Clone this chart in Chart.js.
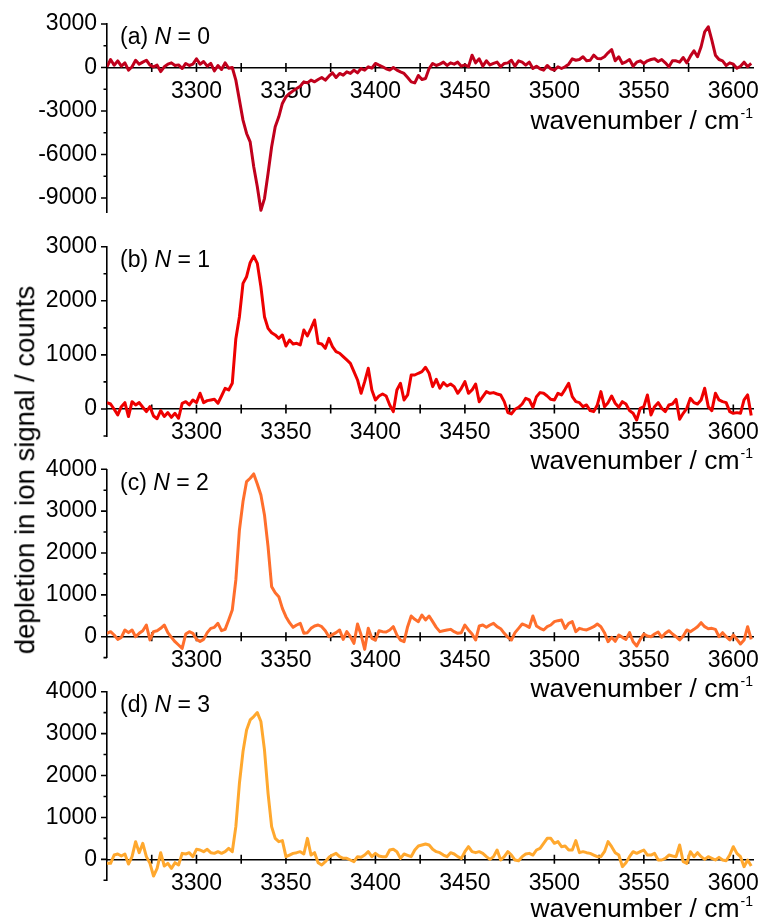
<!DOCTYPE html>
<html>
<head>
<meta charset="utf-8">
<script src="https://cdn.jsdelivr.net/npm/chart.js"></script>
<style>
  html, body { margin: 0; padding: 0; background: #fff; }
  #wrap { position: relative; width: 760px; height: 922px; overflow: hidden; background: #fff; }
  #wrap canvas { position: absolute; left: 0; }
  #ytitle {
    position: absolute; left: 25px; top: 470px;
    transform: translate(-50%, -50%) rotate(-90deg);
    white-space: nowrap; line-height: 1; color: #000;
    font-family: 'Liberation Sans', Arial, sans-serif; font-size: 27.5px;
  }
</style>
</head>
<body>
<div id="wrap">
  <canvas id="panelA" width="760" height="243" style="top:0px"></canvas>
  <canvas id="panelB" width="760" height="250" style="top:222px"></canvas>
  <canvas id="panelC" width="760" height="255" style="top:445px"></canvas>
  <canvas id="panelD" width="760" height="255" style="top:667px"></canvas>
  <div id="ytitle">depletion in ion signal / counts</div>
</div>
<script>
// IR scan grid (cm-1)
const wavenumbers = [
  3250,3252,3254,3256,3258,3260,3262,3264,3266,3268,
  3270,3272,3274,3276,3278,3280,3282,3284,3286,3288,
  3290,3292,3294,3296,3298,3300,3302,3304,3306,3308,
  3310,3312,3314,3316,3318,3320,3322,3324,3326,3328,
  3330,3332,3334,3336,3338,3340,3342,3344,3346,3348,
  3350,3352,3354,3356,3358,3360,3362,3364,3366,3368,
  3370,3372,3374,3376,3378,3380,3382,3384,3386,3388,
  3390,3392,3394,3396,3398,3400,3402,3404,3406,3408,
  3410,3412,3414,3416,3418,3420,3422,3424,3426,3428,
  3430,3432,3434,3436,3438,3440,3442,3444,3446,3448,
  3450,3452,3454,3456,3458,3460,3462,3464,3466,3468,
  3470,3472,3474,3476,3478,3480,3482,3484,3486,3488,
  3490,3492,3494,3496,3498,3500,3502,3504,3506,3508,
  3510,3512,3514,3516,3518,3520,3522,3524,3526,3528,
  3530,3532,3534,3536,3538,3540,3542,3544,3546,3548,
  3550,3552,3554,3556,3558,3560,3562,3564,3566,3568,
  3570,3572,3574,3576,3578,3580,3582,3584,3586,3588,
  3590,3592,3594,3596,3598,3600,3602,3604,3606,3608,
  3610
];

// depletion in ion signal (counts), N = 0
const depletionN0 = [
  50,550,160,460,90,320,-180,50,500,230,
  370,500,160,40,160,-280,50,230,320,140,
  180,-70,280,140,230,600,230,410,90,280,
  -230,140,-140,320,-50,0,-870,-2250,-3630,-4550,
  -5130,-6850,-8230,-9850,-9040,-7310,-5470,-4090,-3400,-2480,
  -2020,-1790,-1610,-1450,-1290,-990,-1060,-870,-990,-830,
  -690,-870,-600,-370,-690,-410,-530,-300,-410,-180,
  -370,-70,-180,50,-50,280,160,50,-90,-180,
  0,-180,-300,-410,-690,-990,-1060,-550,-830,-760,
  -70,280,140,230,370,140,320,230,370,90,
  180,50,850,320,600,90,460,180,280,370,
  50,280,320,500,90,460,370,160,370,-70,
  90,-90,-180,140,-90,-180,50,-70,50,230,
  600,500,550,740,460,500,850,620,600,740,
  1010,1240,460,740,280,390,550,90,370,460,
  280,460,550,600,410,550,320,50,460,460,
  370,690,320,780,1150,740,1430,2460,2810,1890,
  850,550,460,140,320,230,-50,90,370,50,
  280
];

// N = 1
const depletionN1 = [
  117,92,-6,-110,43,117,-140,135,74,117,
  31,-49,43,-130,-180,-31,-140,-68,-155,-80,
  -172,105,135,74,166,117,290,117,154,166,
  178,105,240,382,351,474,1300,1706,2322,2445,
  2704,2827,2692,2260,1706,1490,1410,1368,1306,1368,
  1164,1275,1200,1214,1183,1460,1350,1490,1645,1214,
  1200,1121,1306,1152,1060,1030,967,906,844,690,
  536,290,505,752,351,166,240,277,240,74,
  -49,351,474,166,259,628,628,660,690,770,
  660,413,548,382,487,425,462,413,290,382,
  505,290,351,462,135,228,320,290,302,277,
  259,135,-68,-92,-6,31,92,197,166,31,
  228,302,290,240,178,166,290,259,363,474,
  228,135,117,43,74,-31,-49,74,320,43,
  117,240,105,31,135,92,-31,-80,-203,12,
  43,259,-110,43,117,12,-49,74,92,178,
  -190,-80,12,197,117,92,166,382,43,-31,
  290,166,135,117,-49,-80,-68,-80,166,259,
  -120
];

// N = 2
const depletionN2 = [
  80,120,40,-64,-16,160,96,160,0,80,
  143,279,-80,120,143,199,279,96,-16,-120,
  -199,-279,64,120,80,-64,-112,-64,96,199,
  223,319,143,175,399,638,1355,2550,3228,3706,
  3786,3889,3650,3387,2909,2152,1196,1052,956,677,
  478,335,223,279,319,80,96,199,255,279,
  239,143,0,48,96,160,-64,120,0,-159,
  303,40,-303,199,-40,-80,143,120,112,160,
  239,40,-80,-120,239,494,414,359,518,399,
  494,359,223,120,143,160,175,120,80,96,
  279,160,64,-80,255,279,223,279,319,239,
  191,80,-16,-80,96,199,303,271,223,494,
  255,199,160,239,279,359,383,399,199,319,
  359,120,199,175,160,199,239,303,239,96,
  -120,-16,-112,40,-16,-64,96,-120,-223,-64,
  64,16,0,64,112,-16,80,143,64,0,
  -80,16,160,120,175,239,335,239,191,199,
  175,0,96,0,-80,40,-64,-175,-80,239,
  -64
];

// N = 3
const depletionN3 = [
  -96,-96,103,127,80,127,-111,64,422,159,
  382,64,-96,-398,-215,159,-159,-96,-215,-80,
  -135,143,127,159,64,239,223,183,239,159,
  143,183,143,183,263,183,780,1815,2571,3088,
  3327,3407,3502,3288,2611,1576,780,501,422,446,
  64,103,143,159,183,127,501,103,159,-80,
  -135,-56,48,103,143,64,24,24,-16,-56,
  64,48,103,183,64,143,80,64,64,223,
  239,183,24,127,96,64,223,318,342,366,
  342,239,183,159,103,64,159,127,64,24,
  183,302,183,159,183,143,64,0,64,223,
  -16,64,183,103,-16,-32,64,127,143,103,
  223,263,382,501,501,382,422,302,318,223,
  223,446,159,183,159,143,103,64,64,183,
  422,302,159,103,-175,-80,64,183,143,183,
  223,103,103,143,-16,-16,24,103,80,64,
  342,-56,-96,183,64,159,64,0,64,24,
  -16,48,-16,-32,103,302,143,64,-175,-16,
  -160
];

// x-axis ticks (every 25 cm-1, labelled every 50)
const xTickValues = [3275,3300,3325,3350,3375,3400,3425,3450,3475,3500,3525,3550,3575,3600];
const xLabelValues = [3300,3350,3400,3450,3500,3550,3600];

// y-axis ticks per panel
const yMajorN0 = [-9000,-6000,-3000,0,3000];
const yMinorN0 = [-7500,-4500,-1500,1500];
const yMajorN1 = [0,1000,2000,3000];
const yMinorN1 = [-500,500,1500,2500];
const yMajorN23 = [0,1000,2000,3000,4000];
const yMinorN23 = [-500,500,1500,2500,3500];

const panelTags = ['(a)', '(b)', '(c)', '(d)'];
const clusterSizes = ['0', '1', '2', '3'];

const FONT = "'Liberation Sans', Arial, sans-serif";

// crossing x ticks, outward y ticks, panel tag and x-axis title
const axisDecor = {
  id: 'axisDecor',
  beforeDatasetsDraw(chart, args, opts) {
    const { ctx, chartArea } = chart;
    const xs = chart.scales.x, ys = chart.scales.y;
    const y0 = ys.getPixelForValue(0);
    ctx.save();
    ctx.strokeStyle = '#000';
    ctx.lineWidth = 1.6;
    ctx.beginPath();
    xs.ticks.forEach(t => {
      const px = xs.getPixelForValue(t.value);
      ctx.moveTo(px, y0 - 4.5);
      ctx.lineTo(px, y0 + 4.5);
    });
    ys.ticks.forEach(t => {
      const py = ys.getPixelForValue(t.value);
      const len = opts.major.includes(t.value) ? 6 : 3.5;
      ctx.moveTo(chartArea.left - len, py);
      ctx.lineTo(chartArea.left, py);
    });
    ctx.stroke();
    ctx.restore();
  },
  afterDraw(chart, args, opts) {
    const { ctx, chartArea } = chart;
    const ys = chart.scales.y;
    const y0 = ys.getPixelForValue(0);
    ctx.save();
    ctx.fillStyle = '#000';

    // panel tag: "(a) N = 0"
    ctx.textAlign = 'left';
    ctx.textBaseline = 'middle';
    let x = chartArea.left + 13;
    const ty = chartArea.top + 14;
    ctx.font = `23px ${FONT}`;
    const head = opts.tag + ' ';
    ctx.fillText(head, x, ty);
    x += ctx.measureText(head).width;
    ctx.font = `italic 23px ${FONT}`;
    ctx.fillText('N', x, ty);
    x += ctx.measureText('N').width;
    ctx.font = `23px ${FONT}`;
    ctx.fillText(' = ' + opts.n, x, ty);

    // x-axis title with superscript
    ctx.textBaseline = 'alphabetic';
    const base = y0 + opts.titleGap;
    ctx.font = `14px ${FONT}`;
    const supW = ctx.measureText('-1').width;
    ctx.font = `26.5px ${FONT}`;
    const main = 'wavenumber / cm';
    const mainW = ctx.measureText(main).width;
    ctx.fillText(main, chartArea.right - supW - 1 - mainW, base);
    ctx.font = `14px ${FONT}`;
    ctx.fillText('-1', chartArea.right - supW, base - 11);
    ctx.restore();
  }
};

function buildPanel(id, values, color, yMin, yMax, major, minor, pad, idx, titleGap) {
  const yTicks = major.concat(minor).sort((a, b) => a - b);
  return new Chart(document.getElementById(id), {
    type: 'line',
    data: {
      datasets: [{
        data: wavenumbers.map((w, i) => ({ x: w, y: values[i] })),
        borderColor: color,
        borderWidth: 3,
        borderJoinStyle: 'round',
        pointRadius: 0,
        tension: 0,
        fill: false
      }]
    },
    options: {
      responsive: false,
      animation: false,
      devicePixelRatio: 1,
      events: [],
      layout: { padding: { top: pad.top, bottom: pad.bottom, left: 0, right: 7 } },
      plugins: {
        legend: { display: false },
        tooltip: { enabled: false },
        axisDecor: { major, tag: panelTags[idx], n: clusterSizes[idx], titleGap }
      },
      scales: {
        x: {
          type: 'linear',
          min: 3250,
          max: 3611,
          position: { y: 0 },
          grid: { display: false, drawTicks: false },
          border: { display: true, color: '#000', width: 1.6 },
          afterBuildTicks: s => { s.ticks = xTickValues.map(v => ({ value: v })); },
          afterFit: s => { s.height = 0; },
          ticks: {
            autoSkip: false,
            maxRotation: 0,
            padding: 0,
            color: '#000',
            font: { family: FONT, size: 23, lineHeight: 2.09 },
            callback: v => (xLabelValues.includes(v) ? String(v) : '')
          }
        },
        y: {
          type: 'linear',
          min: yMin,
          max: yMax,
          grid: { display: false, drawTicks: false },
          border: { display: true, color: '#000', width: 1.6 },
          afterBuildTicks: s => { s.ticks = yTicks.map(v => ({ value: v })); },
          afterFit: s => { s.width = 107; },
          ticks: {
            autoSkip: false,
            padding: 10,
            color: '#000',
            font: { family: FONT, size: 23 },
            callback: v => (major.includes(v) ? String(v) : '')
          }
        }
      }
    },
    plugins: [axisDecor]
  });
}

buildPanel('panelA', depletionN0, '#C0001C', -10000, 3000, yMajorN0, yMinorN0, { top: 24, bottom: 30.5 }, 0, 61);
buildPanel('panelB', depletionN1, '#EE0000', -500, 3000, yMajorN1, yMinorN1, { top: 24.7, bottom: 36 }, 1, 60);
buildPanel('panelC', depletionN2, '#FF6E2C', -500, 4000, yMajorN23, yMinorN23, { top: 24.3, bottom: 42.4 }, 2, 60);
buildPanel('panelD', depletionN3, '#FFA82E', -500, 4000, yMajorN23, yMinorN23, { top: 24.7, bottom: 41.7 }, 3, 58);
</script>
</body>
</html>
